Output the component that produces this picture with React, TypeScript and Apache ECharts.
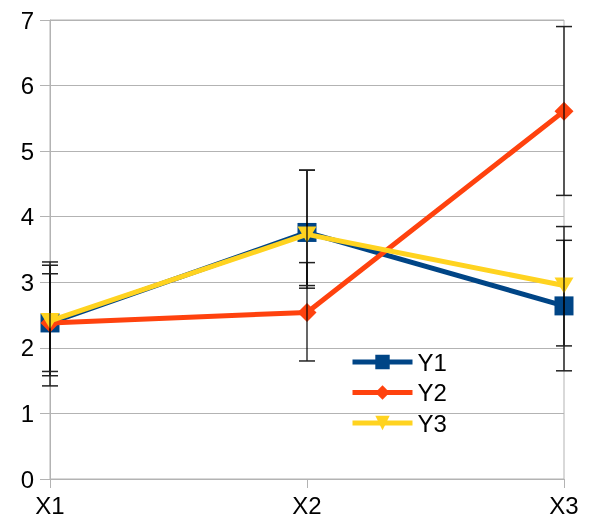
import React, { useEffect, useRef } from "react";
import * as echarts from "echarts";

const categories = ["X1", "X2", "X3"];
const seriesNames = ["Y1", "Y2", "Y3"];
const y1Values = [2.38, 3.76, 2.64];
const y2Values = [2.38, 2.54, 5.61];
const y3Values = [2.41, 3.73, 2.95];
const y1ErrLow = [1.42, 2.91, 1.65];
const y1ErrHigh = [3.31, 4.71, 3.64];
const y2ErrLow = [1.575, 1.8, 4.325];
const y2ErrHigh = [3.26, 3.3, 6.9];
const y3ErrLow = [1.64, 2.95, 2.03];
const y3ErrHigh = [3.13, 4.71, 3.85];
const yTicks = { min: 0, max: 7, interval: 1 };

const colors = ["#004586", "#ff420e", "#ffd320"];
const FONT = "'Liberation Sans', Arial, sans-serif";

function errSeries(lows: number[], highs: number[], z: number) {
  return {
    type: "custom",
    z,
    silent: true,
    clip: false,
    encode: { x: 0, y: [1, 2] },
    data: lows.map((lo, i) => [i, lo, highs[i]]),
    renderItem: (params: any, api: any) => {
      const x = api.value(0);
      const lo = api.coord([x, api.value(1)]);
      const hi = api.coord([x, api.value(2)]);
      const cap = 8;
      return {
        type: "group",
        children: [
          { type: "line", shape: { x1: lo[0], y1: lo[1], x2: hi[0], y2: hi[1] }, style: { stroke: "#000", lineWidth: 1.2 } },
          { type: "line", shape: { x1: lo[0] - cap, y1: lo[1], x2: lo[0] + cap, y2: lo[1] }, style: { stroke: "#222", lineWidth: 1.5 } },
          { type: "line", shape: { x1: hi[0] - cap, y1: hi[1], x2: hi[0] + cap, y2: hi[1] }, style: { stroke: "#222", lineWidth: 1.5 } },
        ],
      };
    },
  };
}

export default function App() {
  const ref = useRef<HTMLDivElement>(null);
  useEffect(() => {
    if (!ref.current) return;
    const chart = echarts.init(ref.current, undefined, { renderer: "svg" });
    const lineBase = (name: string, data: number[], color: string, symbol: string, size: any, z: number, rotate = 0) => ({
      type: "line",
      name,
      data,
      z,
      symbol,
      symbolSize: size,
      symbolRotate: rotate,
      showAllSymbol: true,
      lineStyle: { color, width: 5 },
      itemStyle: { color, borderWidth: 0 },
      emphasis: { disabled: true },
    });
    chart.setOption({
      animation: false,
      grid: {
        left: 50,
        right: 34,
        top: 20,
        bottom: 46,
        show: true,
        borderColor: "#b3b3b3",
        borderWidth: 1,
        backgroundColor: "transparent",
      },
      legend: {
        data: seriesNames,
        orient: "vertical",
        left: 350,
        top: 350,
        padding: 0,
        itemWidth: 60,
        itemHeight: 18,
        itemGap: 6.5,
        lineStyle: { width: 5 },
        textStyle: { fontFamily: FONT, fontSize: 24, color: "#000" },
      },
      xAxis: {
        type: "category",
        data: categories,
        boundaryGap: false,
        axisLine: { show: true, lineStyle: { color: "#b3b3b3", width: 1 } },
        axisTick: { show: true, length: 9, lineStyle: { color: "#b3b3b3" } },
        axisLabel: { fontFamily: FONT, fontSize: 24, color: "#000", margin: 14 },
        splitLine: { show: false },
      },
      yAxis: {
        type: "value",
        min: yTicks.min,
        max: yTicks.max,
        interval: yTicks.interval,
        axisLine: { show: true, lineStyle: { color: "#b3b3b3", width: 1 } },
        axisTick: { show: true, length: 10, lineStyle: { color: "#b3b3b3" } },
        axisLabel: { fontFamily: FONT, fontSize: 24, color: "#000", margin: 16 },
        splitLine: { show: true, lineStyle: { color: "#b3b3b3", width: 1 } },
      },
      series: [
        lineBase("Y1", y1Values, colors[0], "rect", 19, 1),
        errSeries(y1ErrLow, y1ErrHigh, 2),
        lineBase("Y2", y2Values, colors[1], "diamond", 19, 3),
        errSeries(y2ErrLow, y2ErrHigh, 4),
        lineBase("Y3", y3Values, colors[2], "triangle", [19, 16], 5, 180),
        errSeries(y3ErrLow, y3ErrHigh, 6),
      ],
    });
    return () => chart.dispose();
  }, []);
  return <div ref={ref} style={{ position: "fixed", left: 0, top: 0, width: 598, height: 525 }} />;
}
